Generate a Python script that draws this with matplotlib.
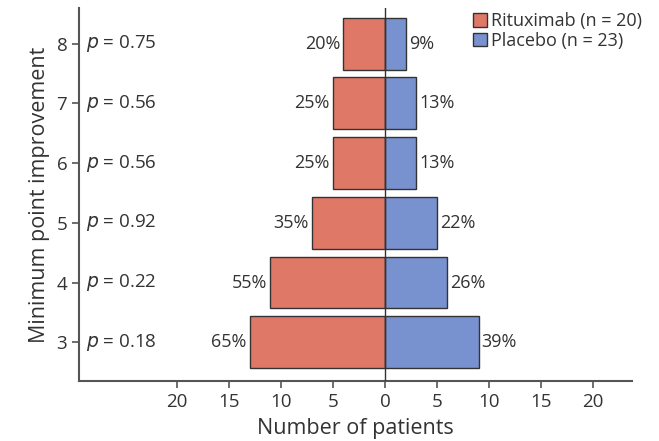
import matplotlib
matplotlib.use("Agg")
import matplotlib.pyplot as plt
from matplotlib.patches import Patch

plt.rcParams['font.family'] = ['Open Sans', 'DejaVu Sans']

# minimum point improvement thresholds
levels = [3, 4, 5, 6, 7, 8]
p_values = ["0.18", "0.22", "0.92", "0.56", "0.56", "0.75"]

# patient counts per arm
rituximab = [13, 11, 7, 5, 5, 4]
placebo = [9, 6, 5, 3, 3, 2]
rituximab_pct = ["65%", "55%", "35%", "25%", "25%", "20%"]
placebo_pct = ["39%", "26%", "22%", "13%", "13%", "9%"]

x_ticks = [-20, -15, -10, -5, 0, 5, 10, 15, 20]

red = "#E07868"
blue = "#7891CF"
edge = "#333333"
text_col = "#333333"

fig = plt.figure(figsize=(6.59, 4.41), dpi=100)
ax = fig.add_axes([0.12, 0.136, 0.839, 0.846])

ax.barh(levels, [-v for v in rituximab], height=0.87, color=red,
        edgecolor=edge, linewidth=1.0, zorder=2)
ax.barh(levels, placebo, height=0.87, color=blue,
        edgecolor=edge, linewidth=1.0, zorder=2)
ax.axvline(0, color=edge, linewidth=1.0, zorder=3)

for y, r, pr in zip(levels, rituximab, rituximab_pct):
    ax.text(-r - 0.3, y, pr, ha="right", va="center", fontsize=13, color=text_col)
for y, p, pp in zip(levels, placebo, placebo_pct):
    ax.text(p + 0.3, y, pp, ha="left", va="center", fontsize=13, color=text_col)

for y, pv in zip(levels, p_values):
    ax.text(0.012, y, f"$\\it{{p}}$ = {pv}", transform=ax.get_yaxis_transform(),
            ha="left", va="center", fontsize=13.5, color=text_col)

ax.set_xlim(-29.4, 23.75)
ax.set_ylim(2.35, 8.6)
ax.set_xticks(x_ticks)
ax.set_xticklabels([str(abs(t)) for t in x_ticks])
ax.set_yticks(levels)

for side in ["top", "right"]:
    ax.spines[side].set_visible(False)
for side in ["left", "bottom"]:
    ax.spines[side].set_color("#555555")
    ax.spines[side].set_linewidth(1.5)
ax.tick_params(axis="both", colors="#555555", labelcolor=text_col,
               labelsize=13.5, length=5, width=1.2)

ax.set_xlabel("Number of patients", fontsize=15.5, color=text_col, labelpad=5)
ax.set_ylabel("Minimum point improvement", fontsize=15.5, color=text_col, labelpad=5)

handles = [Patch(facecolor=red, edgecolor=edge, label="Rituximab (n = 20)"),
           Patch(facecolor=blue, edgecolor=edge, label="Placebo (n = 23)")]
leg = fig.legend(handles=handles, loc="upper left",
                 bbox_to_anchor=(473 / 659, 1 - 12 / 441),
                 frameon=False, fontsize=13, handlelength=0.8, handleheight=0.8,
                 handletextpad=0.2, labelspacing=0.1, borderpad=0,
                 borderaxespad=0)
for t in leg.get_texts():
    t.set_color(text_col)

fig.savefig("out.png", dpi=100)
